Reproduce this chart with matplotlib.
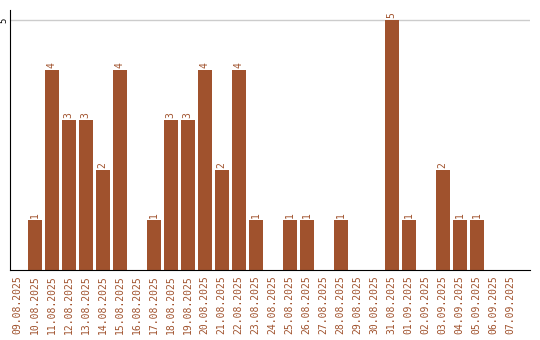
import matplotlib
matplotlib.use("Agg")
import matplotlib.pyplot as plt
import numpy as np

dates = ["09.08.2025", "10.08.2025", "11.08.2025", "12.08.2025", "13.08.2025",
         "14.08.2025", "15.08.2025", "16.08.2025", "17.08.2025", "18.08.2025",
         "19.08.2025", "20.08.2025", "21.08.2025", "22.08.2025", "23.08.2025",
         "24.08.2025", "25.08.2025", "26.08.2025", "27.08.2025", "28.08.2025",
         "29.08.2025", "30.08.2025", "31.08.2025", "01.09.2025", "02.09.2025",
         "03.09.2025", "04.09.2025", "05.09.2025", "06.09.2025", "07.09.2025"]
counts = [0, 1, 4, 3, 3, 2, 4, 0, 1, 3, 3, 4, 2, 4, 1,
          0, 1, 1, 0, 1, 0, 0, 5, 1, 0, 2, 1, 1, 0, 0]

color = '#a0522d'

fig = plt.figure(figsize=(5.4, 3.4), dpi=100)
ax = fig.add_axes([10/540, 70/340, 520/540, 260/340])

x = np.arange(len(dates))
ax.bar(x, counts, width=0.82, color=color, zorder=2)

for xi, v in zip(x, counts):
    if v > 0:
        ax.text(xi, v + 0.04, str(v), rotation=90, ha='center', va='bottom',
                fontsize=7, color=color, family='DejaVu Sans Mono')

# slots are ~17px wide, axis line runs on past the last date
ax.set_xlim(-0.45, 30.14)
ax.set_ylim(0, 5.2)
ax.set_yticks([5])
ax.set_yticklabels(['5'], rotation=90, va='center', fontsize=6.5,
                   family='DejaVu Sans Mono')
ax.set_xticks(x)
ax.set_xticklabels(dates, rotation=90, fontsize=7, color=color,
                   family='DejaVu Sans Mono')
ax.tick_params(axis='x', length=0, pad=4)
ax.tick_params(axis='y', length=0, pad=1)
ax.yaxis.grid(True, color='#cccccc', linewidth=1, zorder=0)
ax.set_axisbelow(True)

for s in ['top', 'right']:
    ax.spines[s].set_visible(False)
ax.spines['left'].set_color('black')
ax.spines['bottom'].set_color('black')

plt.savefig('out.png', dpi=100)
